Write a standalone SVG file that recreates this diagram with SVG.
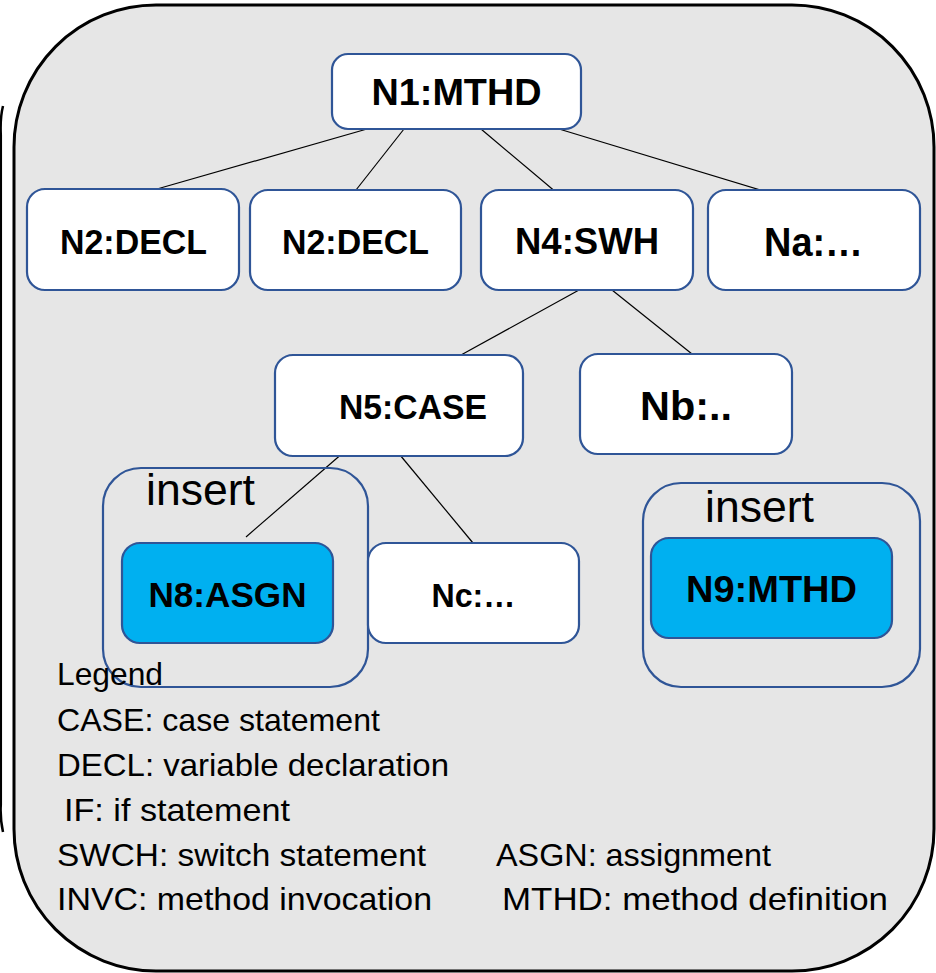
<svg xmlns="http://www.w3.org/2000/svg" width="936" height="973" viewBox="0 0 936 973">
<style>
.node{fill:#ffffff;stroke:#2F5597;stroke-width:2.2}
.ins{fill:#00B0F0;stroke:#2F5597;stroke-width:2.2}
.grp{fill:none;stroke:#2F5597;stroke-width:2.2}
.lbl{font-family:"Liberation Sans",Arial,sans-serif;font-weight:bold;fill:#000;text-anchor:middle}
.txt{font-family:"Liberation Sans",Arial,sans-serif;fill:#000}
.edge{stroke:#000;stroke-width:1.2;fill:none}
</style>
<rect width="936" height="973" fill="#ffffff"/>
<path d="M3,106 Q0,118 0.8,135 L0.8,805 Q0,818 3,832" fill="none" stroke="#000" stroke-width="2.5"/>
<g id="frame">
<rect x="14" y="5" width="920" height="966" rx="142" ry="142" fill="#E6E6E6" stroke="#000" stroke-width="3"/>
</g>
<g id="connectors">
<line class="edge" x1="367" y1="129" x2="157" y2="189"/>
<line class="edge" x1="404" y1="129" x2="356" y2="190"/>
<line class="edge" x1="481" y1="129" x2="557" y2="193"/>
<line class="edge" x1="559" y1="129" x2="770" y2="193"/>
<line class="edge" x1="579" y1="290" x2="461" y2="355"/>
<line class="edge" x1="612" y1="290" x2="692" y2="354"/>
<line class="edge" x1="344" y1="452" x2="246" y2="537"/>
<line class="edge" x1="400" y1="455" x2="473" y2="543"/>
</g>
<g id="insert1">
<rect class="grp" x="103" y="468" width="265" height="219" rx="38"/>
<text class="txt" x="146" y="505" font-size="44" textLength="109" lengthAdjust="spacingAndGlyphs">insert</text>
</g>
<g id="insert2">
<rect class="grp" x="643" y="483" width="277" height="204" rx="38"/>
<text class="txt" x="705" y="522" font-size="44" textLength="109" lengthAdjust="spacingAndGlyphs">insert</text>
</g>
<g id="N1">
<rect class="node" x="332" y="54" width="249" height="75" rx="16"/>
<text class="lbl" x="456.5" y="105" font-size="37" textLength="170" lengthAdjust="spacingAndGlyphs">N1:MTHD</text>
</g>
<g id="N2a">
<rect class="node" x="27" y="189" width="212" height="101" rx="18"/>
<text class="lbl" x="133.5" y="254" font-size="35" textLength="147" lengthAdjust="spacingAndGlyphs">N2:DECL</text>
</g>
<g id="N2b">
<rect class="node" x="250" y="190" width="211" height="100" rx="18"/>
<text class="lbl" x="355.5" y="254" font-size="35" textLength="147" lengthAdjust="spacingAndGlyphs">N2:DECL</text>
</g>
<g id="N4">
<rect class="node" x="481" y="190" width="212" height="100" rx="18"/>
<text class="lbl" x="587" y="254" font-size="36" textLength="144" lengthAdjust="spacingAndGlyphs">N4:SWH</text>
</g>
<g id="Na">
<rect class="node" x="708" y="190" width="212" height="100" rx="18"/>
<text class="lbl" x="813.5" y="256" font-size="40" textLength="99" lengthAdjust="spacingAndGlyphs">Na:…</text>
</g>
<g id="N5">
<rect class="node" x="275" y="355" width="248" height="101" rx="18"/>
<text class="lbl" x="413" y="419" font-size="35" textLength="148" lengthAdjust="spacingAndGlyphs">N5:CASE</text>
</g>
<g id="Nb">
<rect class="node" x="580" y="354" width="212" height="100" rx="18"/>
<text class="lbl" x="686" y="420" font-size="40" textLength="92" lengthAdjust="spacingAndGlyphs">Nb:..</text>
</g>
<g id="N8">
<rect class="ins" x="122" y="543" width="211" height="100" rx="18"/>
<text class="lbl" x="227.5" y="607" font-size="35" textLength="158" lengthAdjust="spacingAndGlyphs">N8:ASGN</text>
</g>
<g id="Nc">
<rect class="node" x="368" y="543" width="211" height="100" rx="18"/>
<text class="lbl" x="473.5" y="607" font-size="33" textLength="84" lengthAdjust="spacingAndGlyphs">Nc:…</text>
</g>
<g id="N9">
<rect class="ins" x="651" y="538" width="241" height="100" rx="18"/>
<text class="lbl" x="771.5" y="602" font-size="36" textLength="171" lengthAdjust="spacingAndGlyphs">N9:MTHD</text>
</g>
<g id="legend" class="txt" font-size="32">
<text x="57" y="685" textLength="106" lengthAdjust="spacingAndGlyphs">Legend</text>
<text x="57" y="731" textLength="323" lengthAdjust="spacingAndGlyphs">CASE: case statement</text>
<text x="57" y="776" textLength="392" lengthAdjust="spacingAndGlyphs">DECL: variable declaration</text>
<text x="64" y="821" textLength="226" lengthAdjust="spacingAndGlyphs">IF: if statement</text>
<text x="57" y="866" textLength="369" lengthAdjust="spacingAndGlyphs">SWCH: switch statement</text>
<text x="496" y="866" textLength="275" lengthAdjust="spacingAndGlyphs">ASGN: assignment</text>
<text x="57" y="910" textLength="375" lengthAdjust="spacingAndGlyphs">INVC: method invocation</text>
<text x="502" y="910" textLength="386" lengthAdjust="spacingAndGlyphs">MTHD: method definition</text>
</g>
</svg>
